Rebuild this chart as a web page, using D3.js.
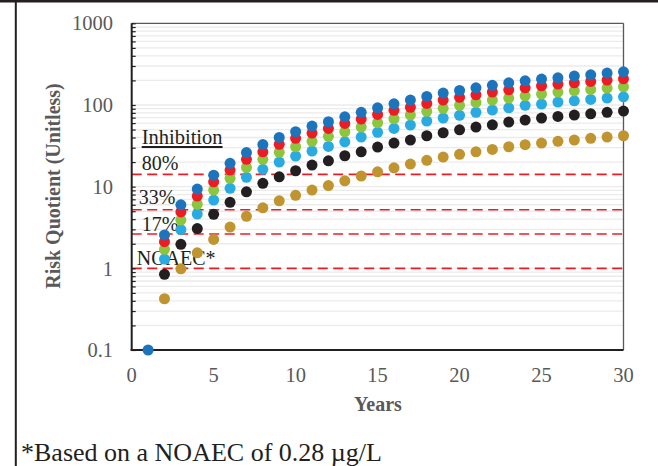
<!DOCTYPE html>
<html><head><meta charset="utf-8">
<script src="https://cdn.jsdelivr.net/npm/d3@7"></script>
<style>
html,body{margin:0;padding:0;background:#fff;}
svg{display:block;}
</style>
</head><body>
<svg id="chart" width="658" height="466"></svg>
<script>
const years = d3.range(1, 31);
const seriesNames = ["gold","black","lightblue","green","red","blue"];
const seriesColors = ["#c0942e","#231f20","#29abe2","#8cc63f","#ed1c24","#1c75bc"];
const goldValues = [null,0.424,0.986,1.55,2.26,3.20,4.33,5.50,6.70,7.83,9.09,10.3,11.8,13.5,15.2,17.0,18.9,21.0,23.0,24.9,26.7,28.6,30.8,32.6,34.2,35.9,37.2,39.0,40.5,42.0];
const blackValues = [null,0.845,1.97,3.07,4.59,6.42,8.64,10.97,13.2,15.65,18.4,20.7,23.9,26.7,30.5,34.2,37.2,42.0,45.7,49.7,53.6,57.2,61.8,65.3,69.1,72.5,75.2,78.0,81.2,84.2];
const lightBlueValues = [null,1.30,2.97,4.62,6.86,9.53,13.0,16.3,20.0,23.7,27.3,31.1,35.4,40.5,46.2,51.7,56.8,63.5,69.1,74.6,81.2,86.6,92.4,98.9,102.6,108.5,112.6,117.1,121.5,126.0];
const greenValues = [null,1.71,3.90,6.09,9.09,12.64,17.2,21.6,26.3,30.8,35.9,41.3,47.0,53.6,60.6,67.8,75.2,83.5,90.9,98.9,107.6,114.8,121.5,129.6,136.0,143.8,149.2,155.2,161.0,167.1];
const redValues = [null,2.12,4.91,7.67,11.45,15.97,21.6,26.7,33.0,39.0,45.3,51.7,59.5,67.2,76.7,85.9,93.5,104.6,114.8,123.9,133.3,143.8,153.5,162.4,171.8,180.3,186.9,194.5,201.7,209.3];
const blueValues = [0.1,2.56,6.00,9.35,13.8,19.3,26.1,32.8,40.1,47.0,55.2,62.3,71.7,81.2,92.4,103.4,114.8,127.4,139.8,150.9,162.4,173.8,186.9,197.8,207.5,215.3,225.8,234.2,245.7,254.9];
const thresholdLabels = ["80%","33%","17%","NOAEC*"];
const thresholdValues = [14.14,5.22,2.63,1.0];
const xTicks = [0,5,10,15,20,25,30];
const yTicks = [0.1,1,10,100,1000];
const yTickLabels = ["0.1","1","10","100","1000"];
const xTitle = "Years";
const yTitle = "Risk Quotient (Unitless)";
const legendTitle = "Inhibition";
const footnote = "*Based on a NOAEC of 0.28 \u00b5g/L";

const allValues = [goldValues,blackValues,lightBlueValues,greenValues,redValues,blueValues];

const svg = d3.select("#chart");
const L = 131.7, R = 623.5, T = 23.3, B = 350;
const x = d3.scaleLinear().domain([0,30]).range([L,R]);
const y = d3.scaleLog().domain([0.1,1000]).range([B,T]);
const serif = "'Liberation Serif','Times New Roman',serif";

// frame lines of page
svg.append("rect").attr("x",0).attr("y",0).attr("width",658).attr("height",2.5).attr("fill","#231f20");
svg.append("rect").attr("x",14.8).attr("y",0).attr("width",2).attr("height",466).attr("fill","#231f20");

// minor gridlines
const minorVals = [];
for (let d = -1; d < 3; d++) for (let m = 1; m <= 9; m++) minorVals.push(m*Math.pow(10,d));
minorVals.push(1000);
svg.append("g").selectAll("line").data(minorVals.filter(v=>v>0.1 && v<1000)).join("line")
  .attr("x1",L).attr("x2",R).attr("y1",d=>y(d)).attr("y2",d=>y(d))
  .attr("stroke","#ebebeb").attr("stroke-width",1.3);

// threshold lines
svg.append("g").selectAll("line").data(thresholdValues).join("line")
  .attr("x1",L).attr("x2",R).attr("y1",d=>y(d)).attr("y2",d=>y(d))
  .attr("stroke","#ed1c24").attr("stroke-width",1.6).attr("stroke-dasharray","10,5.5");

// top/right border
svg.append("line").attr("x1",L).attr("x2",R).attr("y1",T).attr("y2",T).attr("stroke","#595959").attr("stroke-width",1.3);
svg.append("line").attr("x1",R).attr("x2",R).attr("y1",T).attr("y2",B).attr("stroke","#595959").attr("stroke-width",1.3);

// left axis
const yAxis = d3.axisRight(y).tickValues(minorVals).tickSize(4).tickFormat("");
const gy = svg.append("g").attr("transform",`translate(${L},0)`).call(yAxis);
gy.select(".domain").remove();
gy.selectAll(".tick line").attr("stroke","#231f20").attr("stroke-width",1.2);
svg.append("line").attr("x1",L).attr("x2",L).attr("y1",T).attr("y2",B+1).attr("stroke","#231f20").attr("stroke-width",2);
svg.append("line").attr("x1",L-1).attr("x2",R).attr("y1",B).attr("y2",B).attr("stroke","#231f20").attr("stroke-width",2);

// y tick labels
svg.append("g").selectAll("text").data(yTicks).join("text")
  .attr("x",113).attr("y",d=>y(d)).attr("dy","0.35em").attr("text-anchor","end")
  .attr("font-family",serif).attr("font-size",20.5).attr("fill","#595959")
  .text((d,i)=>yTickLabels[i]);

// x tick labels
svg.append("g").selectAll("text").data(xTicks).join("text")
  .attr("x",d=>x(d)).attr("y",382).attr("text-anchor","middle")
  .attr("font-family",serif).attr("font-size",20.5).attr("fill","#595959")
  .text(d=>d);

// axis titles
svg.append("text").attr("x",378).attr("y",411).attr("text-anchor","middle")
  .attr("font-family",serif).attr("font-size",20).attr("font-weight","bold").attr("fill","#595959").text(xTitle);
svg.append("text").attr("transform","translate(60,186) rotate(-90)").attr("text-anchor","middle")
  .attr("font-family",serif).attr("font-size",20).attr("font-weight","bold").attr("fill","#595959").text(yTitle);

// threshold labels
const lblX = [141.7,138.7,141.7,136.7];
const lblY = [169.5,204,231,265];
svg.append("g").selectAll("text").data(thresholdLabels).join("text")
  .attr("x",(d,i)=>lblX[i]).attr("y",(d,i)=>lblY[i])
  .attr("font-family",serif).attr("font-size",20).attr("fill","#231f20").text(d=>d);
svg.append("text").attr("x",141.7).attr("y",144).attr("font-family",serif).attr("font-size",20.5)
  .attr("fill","#231f20").attr("text-decoration","underline").text(legendTitle);

// points
allValues.forEach((vals,si)=>{
  const pts = years.map((yr,i)=>({yr, v: vals[i]})).filter(p=>p.v!=null);
  svg.append("g").selectAll("circle").data(pts).join("circle")
    .attr("cx",p=>x(p.yr)).attr("cy",p=>y(p.v)).attr("r",5.5)
    .attr("fill",seriesColors[si]);
});

// footnote
svg.append("text").attr("x",21).attr("y",461).attr("font-family",serif).attr("font-size",26)
  .attr("fill","#231f20").text(footnote);
</script>
</body></html>
